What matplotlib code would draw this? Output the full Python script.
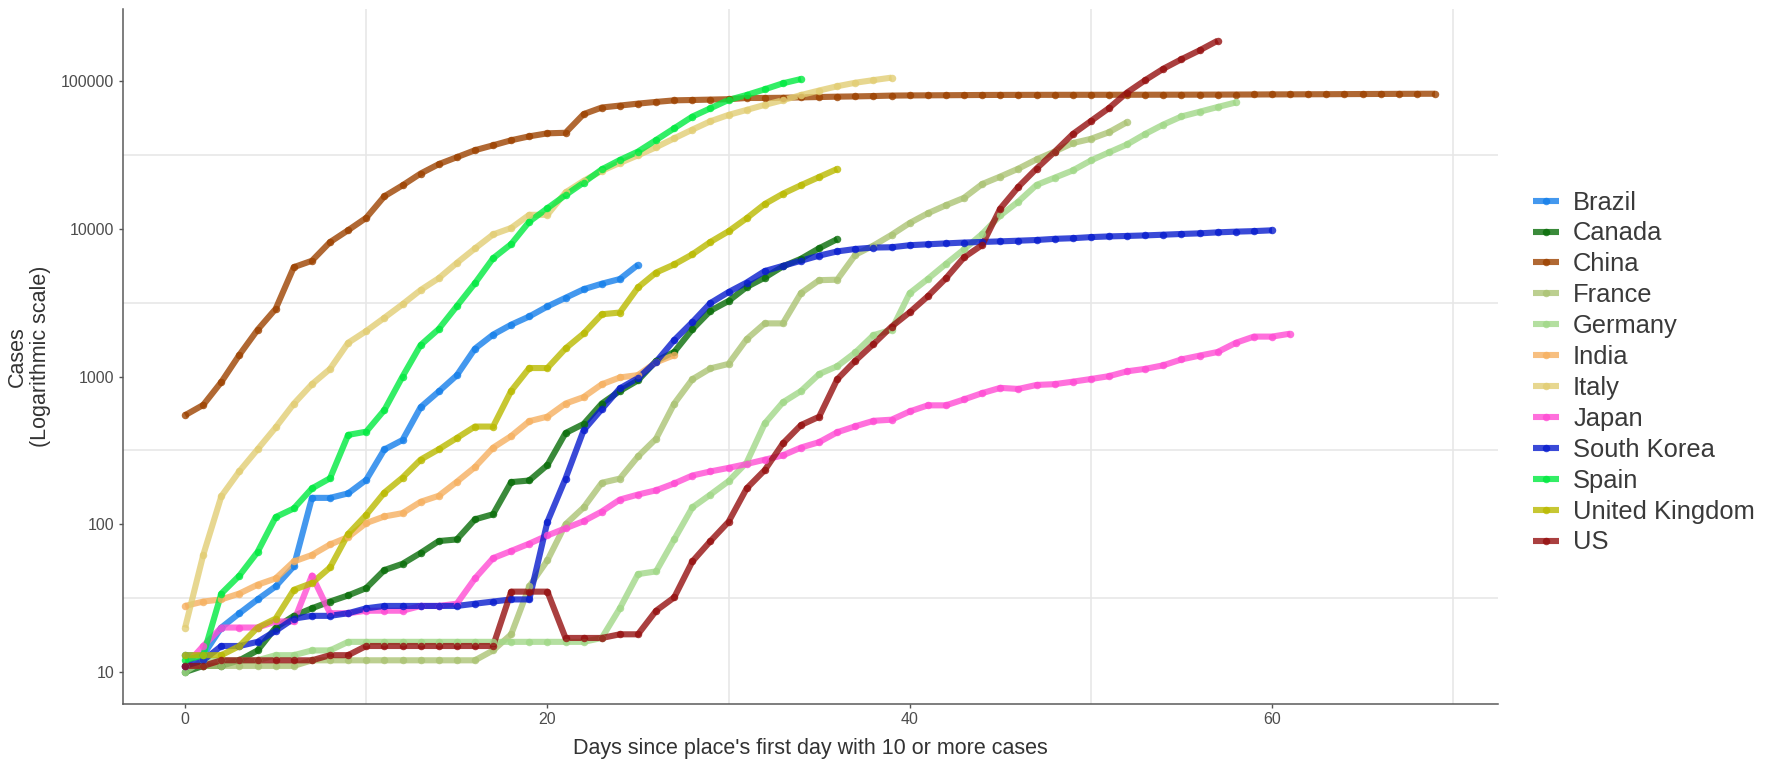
import numpy as np
import matplotlib
matplotlib.use("Agg")
import matplotlib.pyplot as plt
from matplotlib.ticker import FixedLocator, FuncFormatter

plt.rcParams["font.family"] = ["Liberation Sans", "DejaVu Sans"]

# cumulative confirmed cases, one value per day since the country's first day with >= 10 cases
brazil = [13, 13, 20, 25, 31, 38, 52, 151, 151, 162, 200, 321, 372, 621, 793, 1021,
          1546, 1924, 2247, 2554, 2985, 3417, 3904, 4256, 4579, 5717]
canada = [10, 11, 11, 12, 14, 20, 24, 27, 30, 33, 37, 49, 54, 64, 77, 79, 108, 117,
          193, 198, 252, 415, 478, 657, 800, 943, 1277, 1469, 2088, 2790, 3251, 4042,
          4682, 5576, 6280, 7398, 8527]
china = [548, 643, 920, 1406, 2075, 2877, 5509, 6087, 8141, 9802, 11891, 16630, 19716,
         23707, 27440, 30587, 34110, 36814, 39829, 42354, 44386, 44759, 59895, 66358,
         68413, 70513, 72434, 74211, 74619, 75077, 75550, 77001, 77022, 77241, 77754,
         78166, 78600, 78928, 79356, 79932, 80136, 80261, 80386, 80537, 80690, 80770,
         80823, 80860, 80887, 80921, 80932, 80945, 80977, 81003, 81033, 81058, 81102,
         81156, 81250, 81305, 81435, 81498, 81591, 81661, 81782, 81897, 81999, 82122,
         82198, 82279]
france = [11] * 7 + [12] * 10 + [14, 18, 38, 57, 100, 130, 191, 204, 288, 380, 656, 959,
          1136, 1219, 1794, 2293, 2293, 3681, 4496, 4532, 6683, 7715, 9124, 10970,
          12758, 14463, 16243, 20123, 22622, 25600, 29551, 33402, 38105, 40708, 45170,
          52827]
germany = [10, 12, 12, 12, 12, 13, 13, 14, 14] + [16] * 14 + [17, 27, 46, 48, 79, 130,
           159, 196, 262, 482, 670, 799, 1040, 1176, 1457, 1908, 2078, 3675, 4585, 5795,
           7272, 9257, 12327, 15320, 19848, 22213, 24873, 29056, 32986, 37323, 43938,
           50871, 57695, 62095, 66885, 71808]
india = [28, 30, 31, 34, 39, 43, 56, 62, 73, 82, 102, 113, 119, 142, 156, 194, 244, 330,
         396, 499, 536, 657, 727, 887, 987, 1024, 1251, 1397]
italy = [20, 62, 155, 229, 322, 453, 655, 888, 1128, 1694, 2036, 2502, 3089, 3858, 4636,
         5883, 7375, 9172, 10149, 12462, 12462, 17660, 21157, 24747, 27980, 31506, 35713,
         41035, 47021, 53578, 59138, 63927, 69176, 74386, 80589, 86498, 92472, 97689,
         101739, 105792]
japan = [11, 15, 20, 20, 20, 22, 22, 45, 25, 25, 26, 26, 26, 28, 28, 29, 43, 59, 66, 74,
         84, 94, 105, 122, 147, 159, 170, 189, 214, 228, 241, 256, 274, 293, 331, 360,
         420, 461, 502, 511, 581, 639, 639, 701, 773, 839, 825, 878, 889, 924, 963, 1007,
         1086, 1128, 1193, 1307, 1387, 1468, 1693, 1866, 1866, 1953]
south_korea = [11, 12, 15, 15, 16, 19, 23, 24, 24, 25, 27, 28, 28, 28, 28, 28, 29, 30, 31,
               31, 104, 204, 433, 602, 833, 977, 1261, 1766, 2337, 3150, 3736, 4335,
               5186, 5621, 6088, 6593, 7041, 7314, 7478, 7513, 7755, 7869, 7979, 8086,
               8162, 8236, 8320, 8413, 8565, 8652, 8799, 8897, 8961, 9037, 9137, 9241,
               9332, 9478, 9583, 9661, 9786]
spain = [12, 13, 34, 45, 65, 112, 128, 175, 205, 403, 424, 594, 1000, 1636, 2100, 3000,
         4290, 6325, 7900, 11200, 13800, 16950, 20600, 25300, 29300, 33400, 40000, 48000,
         57600, 65600, 74700, 80700, 88200, 96800, 103500]
uk = [13, 13, 13, 15, 20, 23, 36, 40, 51, 86, 116, 164, 207, 274, 322, 384, 459, 459,
      801, 1143, 1143, 1551, 1960, 2642, 2716, 4014, 5067, 5745, 6726, 8164, 9640, 11812,
      14745, 17312, 19780, 22453, 25481]
us = [11, 11, 12, 12, 12, 12, 12, 12, 13, 13] + [15] * 8 + [35, 35, 35, 17, 17, 17, 18,
      18, 26, 32, 56, 77, 104, 175, 233, 353, 470, 535, 959, 1281, 1663, 2179, 2727, 3499,
      4632, 6421, 7783, 13747, 19273, 25600, 33276, 43847, 53740, 65778, 83836, 101657,
      121478, 140886, 161807, 188172]

countries = ["Brazil", "Canada", "China", "France", "Germany", "India", "Italy", "Japan",
             "South Korea", "Spain", "United Kingdom", "US"]
series = [brazil, canada, china, france, germany, india, italy, japan, south_korea, spain,
          uk, us]
colors = ["#157fea", "#096d09", "#9c4200", "#abc374", "#a1d888", "#f6b060", "#e2ce74",
          "#ff4cd4", "#091dce", "#00ea40", "#baba00", "#951010"]

ALPHA = 0.8
fig = plt.figure(figsize=(17.67, 7.65), dpi=100)
ax = fig.add_axes([0.0694, 0.0803, 0.7781, 0.9078])

# ggplot draws every line first, then every point
lines = []
for vals, col in zip(series, colors):
    days = np.arange(len(vals))
    ln, = ax.plot(days, vals, color=col, lw=4.4, alpha=ALPHA, solid_capstyle="butt",
                  solid_joinstyle="round", zorder=2)
    lines.append(ln)
pts = []
for vals, col in zip(series, colors):
    days = np.arange(len(vals))
    p, = ax.plot(days, vals, ls="none", marker="o", ms=5.4, mew=0, color=col,
                 alpha=ALPHA, zorder=3)
    pts.append(p)

ax.set_yscale("log")
# 5% expansion like ggplot
xmax = max(len(v) for v in series) - 1
ax.set_xlim(-0.05 * xmax, xmax * 1.05)
lo = np.log10(min(min(v) for v in series))
hi = np.log10(max(max(v) for v in series))
pad = 0.05 * (hi - lo)
ax.set_ylim(10 ** (lo - pad), 10 ** (hi + pad))

ax.xaxis.set_major_locator(FixedLocator([0, 20, 40, 60]))
ax.xaxis.set_minor_locator(FixedLocator([10, 30, 50, 70]))
ax.yaxis.set_major_locator(FixedLocator([10, 100, 1000, 10000, 100000]))
ax.yaxis.set_minor_locator(FixedLocator([10 ** (k + 0.5) for k in range(1, 6)]))
ax.yaxis.set_major_formatter(FuncFormatter(lambda v, _: f"{v:.0f}"))
ax.yaxis.set_minor_formatter(FuncFormatter(lambda v, _: ""))
ax.grid(which="minor", color="#e6e6e6", lw=1.1)
ax.grid(which="major", visible=False)
ax.set_axisbelow(True)
ax.tick_params(which="minor", length=0)
ax.tick_params(which="major", length=3.2, width=1.0, color="#555555", labelsize=11.5,
               labelcolor="#4d4d4d", pad=3)

for s in ("top", "right"):
    ax.spines[s].set_visible(False)
for s in ("left", "bottom"):
    ax.spines[s].set_color("#5a5a5a")
    ax.spines[s].set_linewidth(1.1)

ax.set_xlabel("Days since place's first day with 10 or more cases", fontsize=15.5,
              color="#333333", va="center")
ax.xaxis.set_label_coords(0.5, -0.064)
ax.set_ylabel("Cases\n(Logarithmic scale)", fontsize=15.5, color="#333333", va="center",
              linespacing=1.1)
ax.yaxis.set_label_coords(-0.068, 0.5)

fig.legend([(l, p) for l, p in zip(lines, pts)], countries, loc="center left",
           bbox_to_anchor=(1533 / 1767, 1 - 372.5 / 765), frameon=False, fontsize=18.4,
           handlelength=1.0, handletextpad=0.57, labelspacing=0.27, borderpad=0,
           borderaxespad=0, labelcolor="#3a3a3a")

fig.savefig("out.png", dpi=100)
